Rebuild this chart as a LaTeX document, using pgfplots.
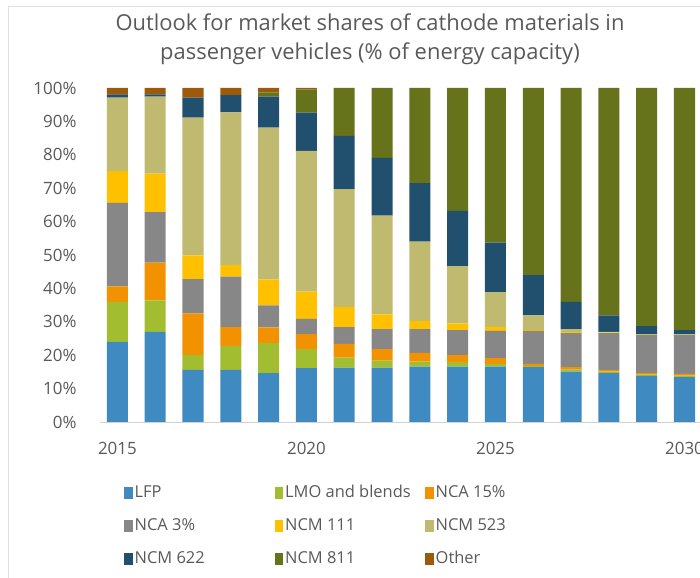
\documentclass[border=0pt]{standalone}
\usepackage{fontspec}
\setmainfont{Open Sans}
\usepackage{pgfplots}
\usepackage{pgfplotstable}
\pgfplotsset{compat=1.18}
\definecolor{cLFP}{RGB}{63,139,193}
\definecolor{cLMO}{RGB}{163,189,49}
\definecolor{cNCAa}{RGB}{243,146,0}
\definecolor{cNCAb}{RGB}{135,135,135}
\definecolor{cNCMa}{RGB}{255,192,0}
\definecolor{cNCMb}{RGB}{192,186,112}
\definecolor{cNCMc}{RGB}{33,80,110}
\definecolor{cNCMd}{RGB}{102,115,26}
\definecolor{cOther}{RGB}{156,90,10}
\definecolor{txt}{RGB}{89,89,89}
\pgfplotstableread{
year LFP LMO NCAa NCAb NCMa NCMb NCMc NCMd Other
2015 24.0 12.0 4.6 25.0 9.5 22.0 1.0 0.0 1.9
2016 27.0 9.4 11.3 15.1 11.6 23.0 0.7 0.0 1.9
2017 15.6 4.5 12.4 10.3 7.1 41.2 6.0 0.0 2.9
2018 15.6 7.2 5.6 15.1 3.5 45.7 5.2 0.0 2.1
2019 14.6 9.1 4.6 6.6 7.8 45.4 9.3 1.3 1.3
2020 16.1 5.7 4.5 4.6 8.1 42.2 11.4 7.0 0.4
2021 16.3 3.0 4.1 5.0 6.1 35.2 16.0 14.3 0.0
2022 16.3 2.1 3.4 6.0 4.4 29.6 17.3 20.9 0.0
2023 16.6 1.5 2.6 7.1 2.5 23.7 17.5 28.5 0.0
2024 16.6 1.3 2.1 7.5 2.0 17.2 16.5 36.8 0.0
2025 16.6 0.8 1.7 8.2 1.2 10.4 14.8 46.3 0.0
2026 16.4 0.3 0.7 9.9 0.3 4.3 12.1 56.0 0.0
2027 15.1 0.6 0.7 10.2 0.4 0.8 8.2 64.0 0.0
2028 14.6 0.5 0.5 11.0 0.2 0.2 4.9 68.1 0.0
2029 13.8 0.4 0.4 11.4 0.1 0.2 2.4 71.3 0.0
2030 13.4 0.5 0.5 11.6 0.1 0.1 1.3 72.5 0.0
}\datatable
\newcommand{\legtxt}[1]{\makebox[138bp][l]{#1}}
\begin{document}
\begin{tikzpicture}
\path[use as bounding box] (0,0) rectangle (700bp,578bp);
\draw[gray!25, line width=0.8bp] (8bp,0) -- (8bp,572bp) -- (700bp,572bp);
\begin{axis}[
  at={(100bp,156bp)}, anchor=south west,
  scale only axis, width=600bp, height=334bp,
  ybar stacked, bar width=0.556,
  xmin=2014.54, xmax=2030.41, ymin=0, ymax=100,
  axis x line*=bottom, axis y line*=left,
  x axis line style={draw=gray!35, line width=0.8bp, -},
  y axis line style={draw=none},
  tick style={draw=none},
  xtick={2015,2020,2025,2030},
  xticklabels={2015,2020,2025,2030},
  ytick={0,10,...,100},
  yticklabel={\pgfmathprintnumber{\tick}\%},
  /pgf/number format/assume math mode=true,
  tick label style={font=\fontsize{17}{20}\selectfont, text=txt},
  xticklabel style={yshift=-17bp},
  yticklabel style={xshift=-20bp},
  title={Outlook for market shares of cathode materials in\\passenger vehicles (\% of energy capacity)},
  title style={at={(0.45,1.147)}, anchor=center, align=center, text=txt,
    font=\fontsize{22}{29}\selectfont},
  every axis title shift=0pt,
  legend columns=3,
  legend cell align=left,
  legend image code/.code={\fill[#1] (0bp,-6bp) rectangle (8.5bp,6bp);},
  legend style={at={(0.04,-0.182)}, anchor=north west, draw=none, fill=none,
    inner sep=0pt, row sep=12.5bp, column sep=0pt,
    font=\fontsize{16.5}{20}\selectfont, text=txt,
    nodes={inner sep=2bp, text height=12.5bp, text depth=4bp}},
]
\addplot[fill=cLFP, draw=none] table[x=year, y=LFP] {\datatable};
\addlegendentry{\legtxt{LFP}}
\addplot[fill=cLMO, draw=none] table[x=year, y=LMO] {\datatable};
\addlegendentry{\legtxt{LMO and blends}}
\addplot[fill=cNCAa, draw=none] table[x=year, y=NCAa] {\datatable};
\addlegendentry{\legtxt{NCA 15\%}}
\addplot[fill=cNCAb, draw=none] table[x=year, y=NCAb] {\datatable};
\addlegendentry{\legtxt{NCA 3\%}}
\addplot[fill=cNCMa, draw=none] table[x=year, y=NCMa] {\datatable};
\addlegendentry{\legtxt{NCM 111}}
\addplot[fill=cNCMb, draw=none] table[x=year, y=NCMb] {\datatable};
\addlegendentry{\legtxt{NCM 523}}
\addplot[fill=cNCMc, draw=none] table[x=year, y=NCMc] {\datatable};
\addlegendentry{\legtxt{NCM 622}}
\addplot[fill=cNCMd, draw=none] table[x=year, y=NCMd] {\datatable};
\addlegendentry{\legtxt{NCM 811}}
\addplot[fill=cOther, draw=none] table[x=year, y=Other] {\datatable};
\addlegendentry{\legtxt{Other}}
\end{axis}
\end{tikzpicture}
\end{document}
